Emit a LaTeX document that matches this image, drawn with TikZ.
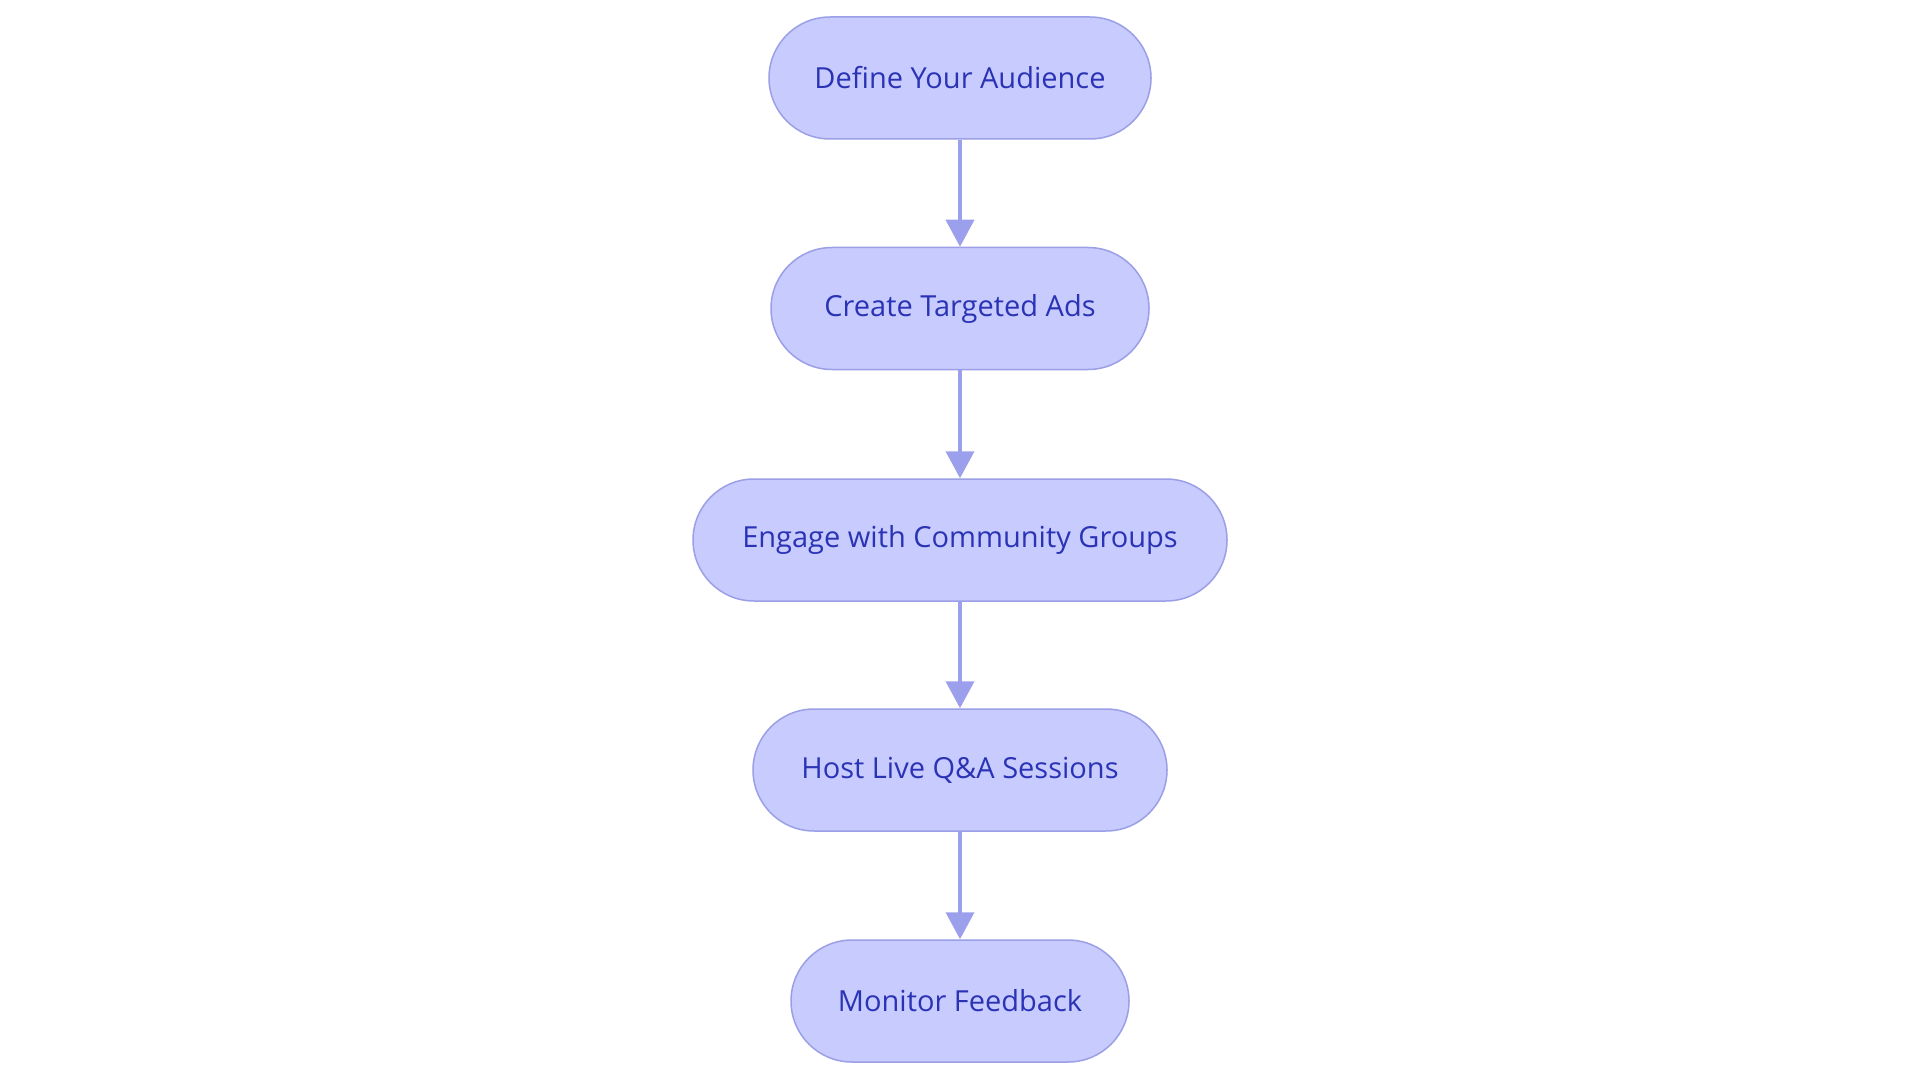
\documentclass[tikz,border=0pt]{standalone}
\usepackage{fontspec}
\setmainfont{Open Sans}
\usetikzlibrary{arrows.meta}
\definecolor{nodefill}{HTML}{C8CBFE}
\definecolor{nodeline}{HTML}{9A9FE6}
\definecolor{nodetext}{HTML}{2B33B5}
\definecolor{arrowcol}{HTML}{9CA0EC}
\tikzset{
  stepbox/.style={draw=nodeline, fill=nodefill, line width=1.5pt, rounded corners=61pt,
    minimum height=122pt, inner sep=0pt, text=nodetext, font=\fontsize{29}{34}\selectfont},
  flowarrow/.style={draw=arrowcol, line width=4pt, -{Triangle[width=28pt,length=27pt]}}
}
\begin{document}
\begin{tikzpicture}[x=1pt,y=-1pt]
\useasboundingbox[fill=white] (0,0) rectangle (1920,1083);
\node[stepbox, minimum width=382pt] (a) at (960,78) {Define Your Audience};
\node[stepbox, minimum width=378pt] (b) at (960,308.5) {Create Targeted Ads};
\node[stepbox, minimum width=534pt] (c) at (960,540) {Engage with Community Groups};
\node[stepbox, minimum width=414pt] (d) at (960,770) {Host Live Q\&A Sessions};
\node[stepbox, minimum width=338pt] (e) at (960,1001) {Monitor Feedback};
\draw[flowarrow] (a) -- (b);
\draw[flowarrow] (b) -- (c);
\draw[flowarrow] (c) -- (d);
\draw[flowarrow] (d) -- (e);
\end{tikzpicture}
\end{document}
